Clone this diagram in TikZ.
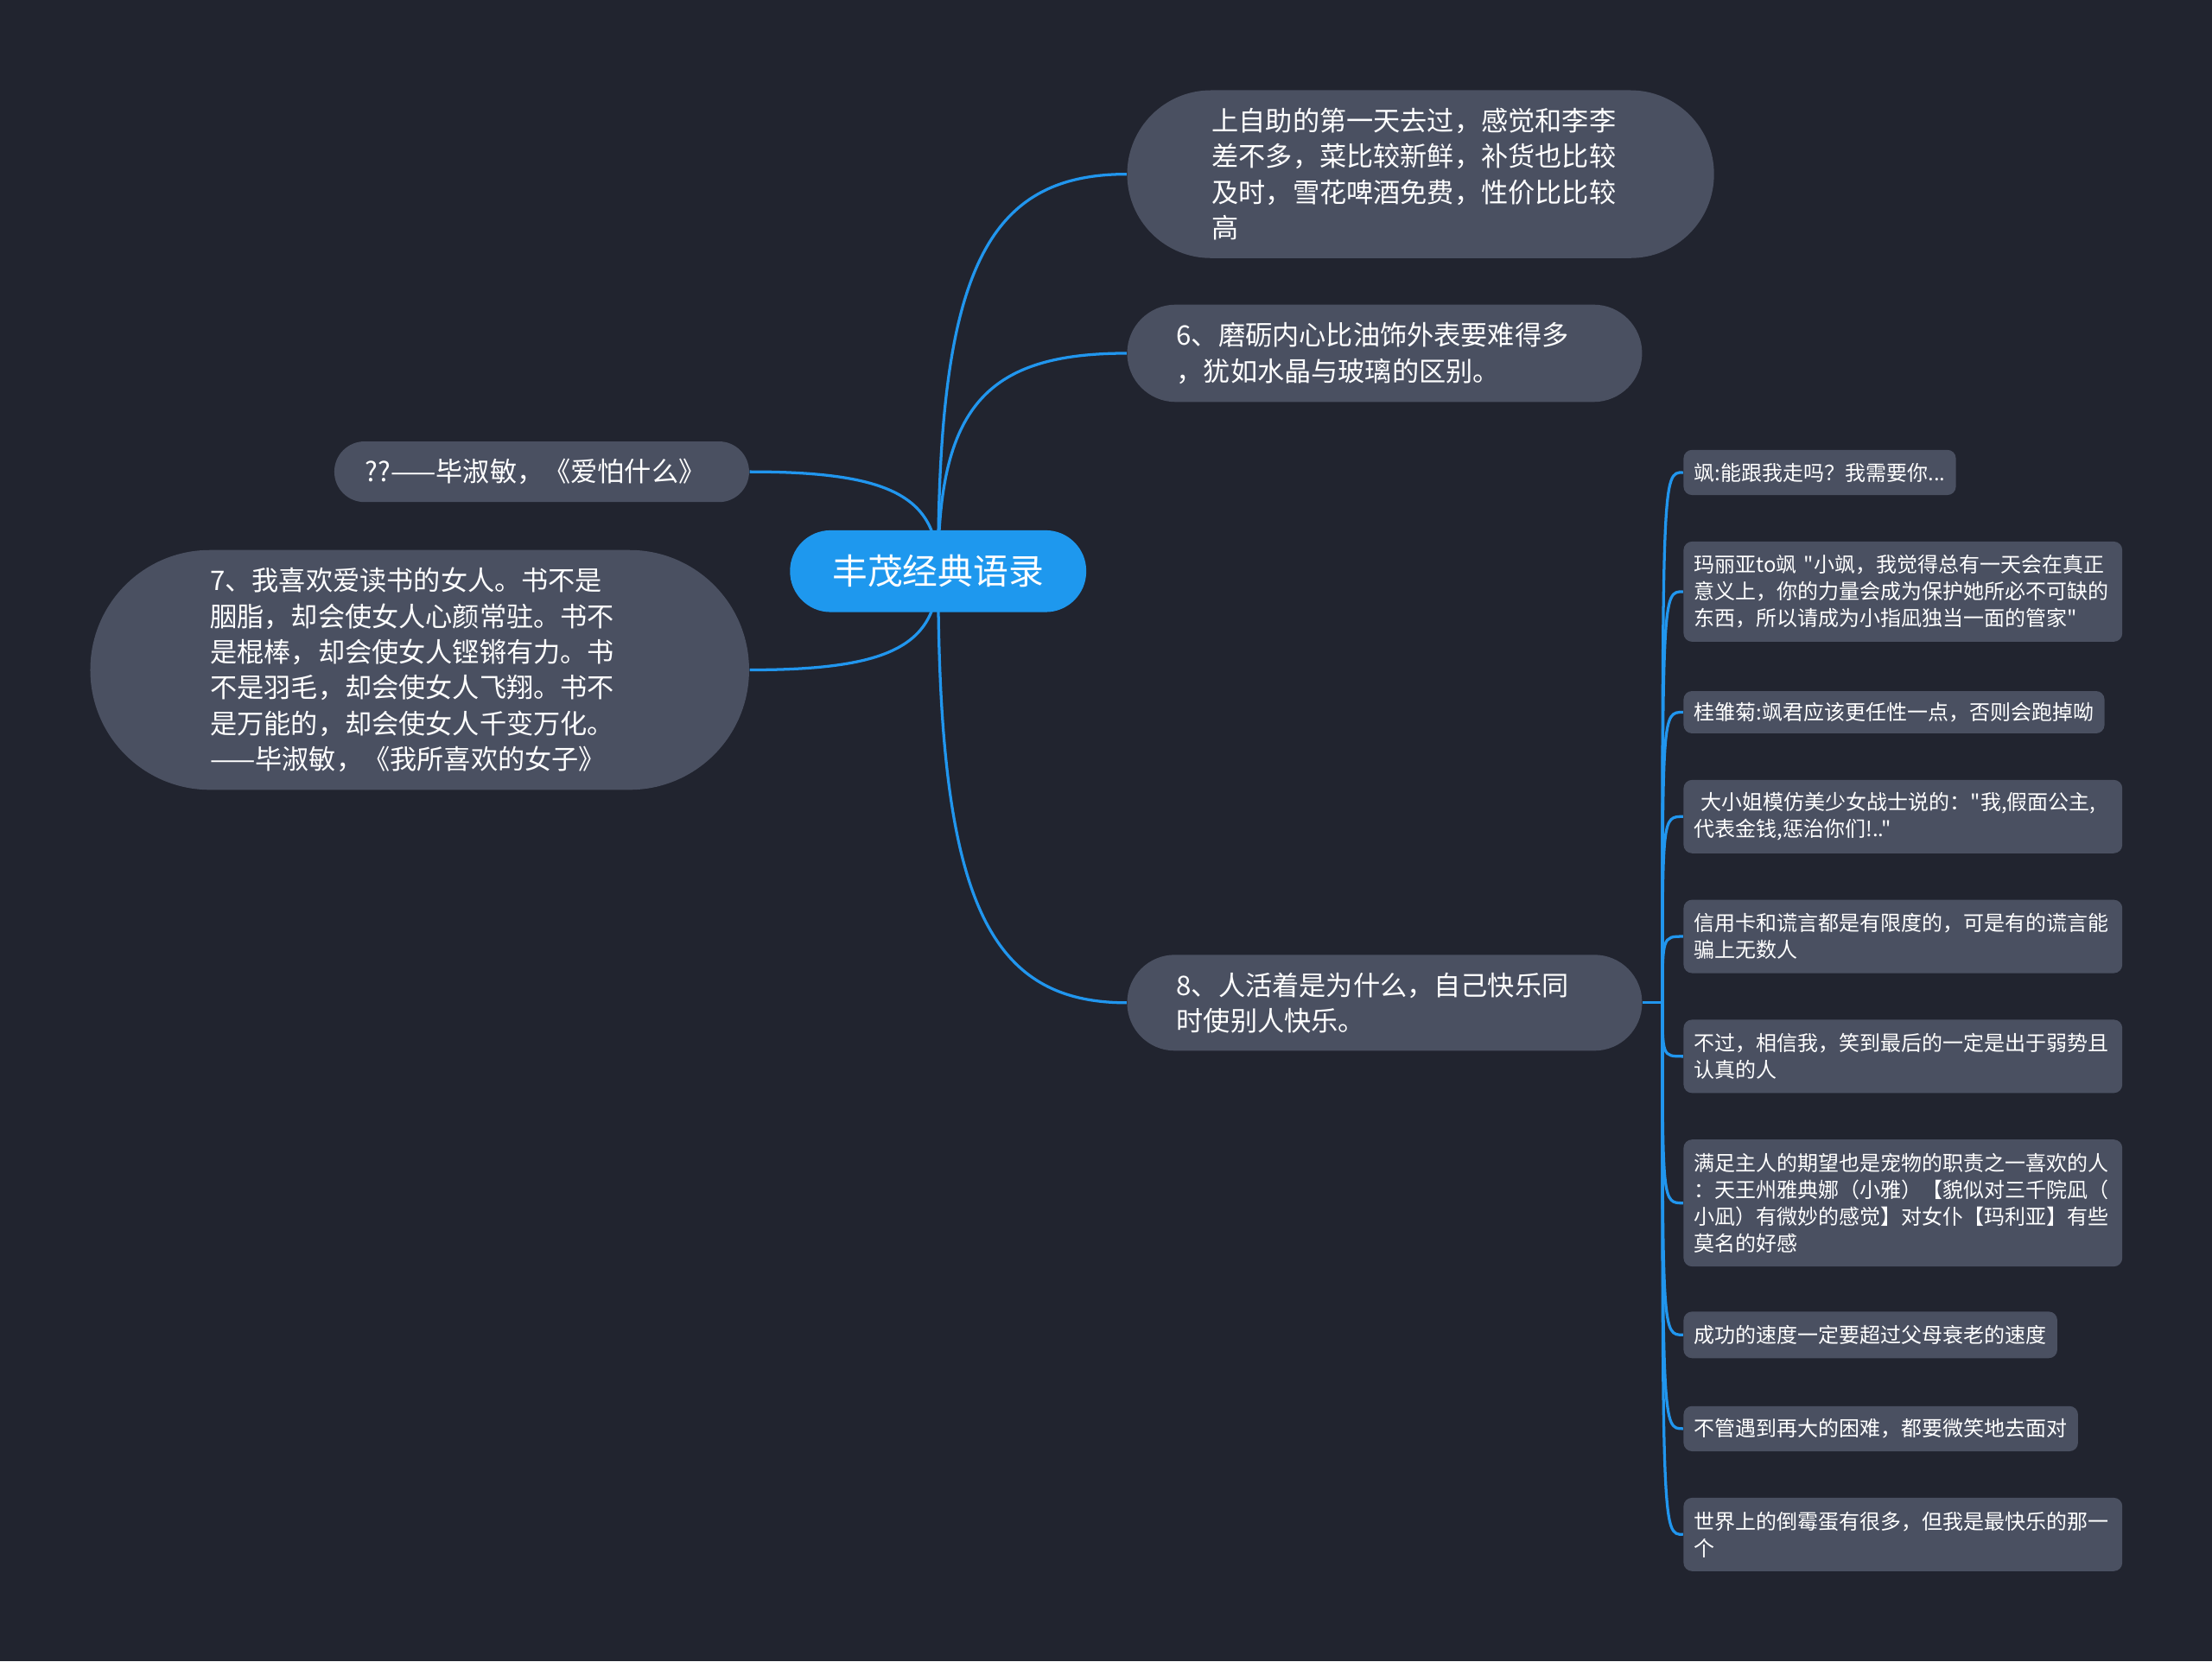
\documentclass[tikz,border=0pt]{standalone}
\usepackage{fontspec}
\setmainfont{Noto Sans CJK SC}[Ligatures=TeXOff]
\usepackage{tikz}
\usetikzlibrary{calc}
\definecolor{bgdark}{HTML}{21242F}
\definecolor{topicgray}{HTML}{4A5061}
\definecolor{rootblue}{HTML}{1E98EE}
\definecolor{linkblue}{HTML}{2196EE}
\pgfdeclarelayer{back}
\pgfdeclarelayer{edges}
\pgfsetlayers{back,edges,main}

\begin{document}
\begin{tikzpicture}[
  x=0.5pt, y=-0.5pt,
  every node/.style={text=white},
  root/.style={fill=rootblue, minimum width=105pt, minimum height=29pt, rounded corners=14.4pt, inner sep=0pt, font=\fontsize{12.5pt}{15pt}\selectfont},
  topic/.style={fill=topicgray, inner ysep=3pt, align=left, font=\fontsize{9.55pt}{12.65pt}\selectfont},
  leaf/.style={fill=topicgray, anchor=west, inner xsep=3.75pt, inner ysep=2pt, rounded corners=3pt, align=left, font=\fontsize{7.35pt}{9.5pt}\selectfont},
  wide/.style={text width=148pt},
  link/.style={draw=linkblue, line width=1pt},
]
\begin{pgfonlayer}{back}
\fill[bgdark] (0,0) rectangle (1568,1178);
\end{pgfonlayer}
% centre
\node[root] (root) at (665,405) {丰茂经典语录};
% right topics
\node[topic, minimum height=59.5pt, rounded corners=29.7pt, inner xsep=30pt, text width=148pt] (n1) at (1007,123.5)
  {上自助的第一天去过，感觉和李李\\差不多，菜比较新鲜，补货也比较\\及时，雪花啤酒免费，性价比比较\\高};
\node[topic, minimum height=34.5pt, rounded corners=17.2pt, inner xsep=17.5pt, text width=147.5pt] (n6) at (981.5,250.5)
  {6、磨砺内心比油饰外表要难得多\\，犹如水晶与玻璃的区别。};
\node[topic, minimum height=34pt, rounded corners=16.9pt, inner xsep=17.5pt, text width=147.5pt] (n8) at (981.5,711)
  {8、人活着是为什么，自己快乐同\\时使别人快乐。};
% left topics
\node[topic, minimum height=21.5pt, rounded corners=10.7pt, inner xsep=11pt, text width=125pt] (nq) at (384,334.5)
  {??——毕淑敏，《爱怕什么》};
\node[topic, minimum height=85pt, rounded corners=42.4pt, inner xsep=42.5pt, text width=148.5pt] (n7) at (297.5,475)
  {7、我喜欢爱读书的女人。书不是\\胭脂，却会使女人心颜常驻。书不\\是棍棒，却会使女人铿锵有力。书\\不是羽毛，却会使女人飞翔。书不\\是万能的，却会使女人千变万化。\\——毕淑敏，《我所喜欢的女子》};
% leaves of 8
\node[leaf, minimum height=16pt] (l1) at (1193,335) {飒:能跟我走吗？我需要你...};
\node[leaf, wide, minimum height=35.5pt] (l2) at (1193,419.5)
  {玛丽亚to飒~"小飒，我觉得总有一天会在真正\\意义上，你的力量会成为保护她所必不可缺的\\东西，所以请成为小指凪独当一面的管家"};
\node[leaf, minimum height=15pt] (l3) at (1193,505) {桂雏菊:飒君应该更任性一点，否则会跑掉呦};
\node[leaf, wide, minimum height=26pt] (l4) at (1193,579)
  {\ 大小姐模仿美少女战士说的："我,假面公主,\\代表金钱,惩治你们!.."};
\node[leaf, wide, minimum height=26pt] (l5) at (1193,664)
  {信用卡和谎言都是有限度的，可是有的谎言能\\骗上无数人};
\node[leaf, wide, minimum height=26pt] (l6) at (1193,749)
  {不过，相信我，笑到最后的一定是出于弱势且\\认真的人};
\node[leaf, wide, minimum height=45pt] (l7) at (1193,853)
  {满足主人的期望也是宠物的职责之一喜欢的人\\：天王州雅典娜（小雅）【貌似对三千院凪（\\小凪）有微妙的感觉】对女仆【玛利亚】有些\\莫名的好感};
\node[leaf, minimum height=16.5pt] (l8) at (1193,946.5) {成功的速度一定要超过父母衰老的速度};
\node[leaf, minimum height=16pt] (l9) at (1193,1013) {不管遇到再大的困难，都要微笑地去面对};
\node[leaf, wide, minimum height=26pt] (l10) at (1193,1088)
  {世界上的倒霉蛋有很多，但我是最快乐的那一\\个};
\coordinate (hub) at ($(n8.east)+(14,0)$);
% links
\begin{pgfonlayer}{edges}
\foreach \t in {n1,n6,n8}
  \draw[link] (root.center) .. controls ($(root.center)!0.75!(root.center |- \t.west)$)
    and ($(root.center |- \t.west)!0.25!(\t.west)$) .. (\t.west);
\foreach \t in {nq,n7}
  \draw[link] (\t.east) .. controls ($(\t.east)!0.75!(root.center |- \t.east)$)
    and ($(root.center |- \t.east)!0.25!(root.center)$) .. (root.center);
\draw[link] (n8.east) -- (hub);
\foreach \l in {l1,l2,l3,l4,l5,l6,l7,l8,l9,l10}
  \draw[link] (hub) .. controls (hub |- \l.west) .. (\l.west);
\end{pgfonlayer}
\end{tikzpicture}
\end{document}
